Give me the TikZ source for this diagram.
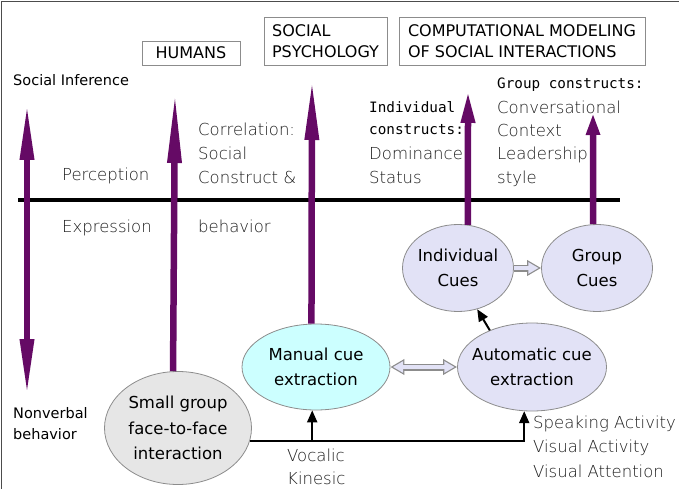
\documentclass[tikz,border=0pt]{standalone}
\usepackage{fontspec}
\setmainfont{DejaVu Sans}
\setmonofont{DejaVu Sans Mono}
\newfontfamily\handfont{DejaVu Sans ExtraLight}
\usepackage{tikz}
\usetikzlibrary{shapes.geometric, arrows.meta, positioning, calc}
\definecolor{arrowPurple}{HTML}{650A65}
\definecolor{cueLav}{HTML}{E2E2F6}
\definecolor{cueCyan}{HTML}{CCFFFF}
\definecolor{cueGray}{HTML}{E6E6E6}
\definecolor{edgeGray}{HTML}{8C8C8C}
\definecolor{handGray}{HTML}{1E1E1E}

\begin{document}
\begin{tikzpicture}[x=1pt, y=-1pt,
    cue/.style={ellipse, draw=edgeGray, line width=0.8pt, inner xsep=-12pt, inner ysep=0pt, align=center,
      font=\fontsize{16.5}{25.5}\selectfont},
    headbox/.style={rectangle, draw=edgeGray, line width=0.8pt, inner sep=0pt, align=left,
      font=\fontsize{16}{21}\selectfont},
    side/.style={anchor=base west, inner sep=0pt, align=left, font=\fontsize{14.5}{21}\selectfont},
    hand/.style={anchor=base west, inner sep=0pt, align=left, text=handGray,
      font=\handfont\fontsize{16.5}{24}\selectfont},
    mono/.style={anchor=base west, inner sep=0pt, align=left, font=\ttfamily\fontsize{14.3}{22}\selectfont},
    outtip/.tip={Triangle[length=14pt, width=15pt]},
    intip/.tip={Triangle[length=10.3pt, width=11pt]},
    bigarrow/.style={line width=6.5pt, arrowPurple, -{Triangle[length=#1, width=13pt]}},
    conn/.style={line width=2pt, -{Triangle[length=12pt, width=10pt]}},
    hollowout/.style={line width=7pt, edgeGray, -outtip},
    hollowin/.style={line width=4.6pt, cueLav, shorten >=2.5pt, -intip}
  ]
  \useasboundingbox (0,0) rectangle (679,489);
  \draw[line width=1.5pt, black!70] (1.5,489) -- (1.5,1.5) -- (679,1.5);

  % === Headers ===
  \node[headbox, minimum width=98pt, minimum height=24pt] (humans) at (191,53) {HUMANS};
  \node[headbox, minimum width=123pt, minimum height=48pt] (socpsy) at (325.5,41) {SOCIAL\\PSYCHOLOGY};
  \node[headbox, minimum width=246pt, minimum height=48pt] (compmod) at (522,41)
    {COMPUTATIONAL MODELING\\OF SOCIAL INTERACTIONS};

  % === Perception / expression line ===
  \draw[line width=4pt] (18,200) -- (620,200);
  \node[side] (socinf) at (13,86) {Social Inference};
  \node[side] (nonverb) at (13,439) {Nonverbal\\behavior};
  \node[hand] (perc) at (62,180) {Perception};
  \node[hand] (expr) at (62,232) {Expression};
  \node[hand] (corr) at (198,183) {Correlation:\\Social\\Construct \&};
  \node[hand] (behav) at (198,232) {behavior};
  \node[mono] (indcons) at (369,135) {Individual\\constructs:};
  \node[hand] (indlist) at (369,183) {Dominance\\Status};
  \node[mono] (grpcons) at (497,89) {Group constructs:};
  \node[hand, font=\handfont\fontsize{16.5}{23.3}\selectfont] (grplist) at (497,183)
    {Conversational\\Context\\Leadership\\style};

  % === Cues ===
  \node[cue, fill=cueGray, minimum width=147pt, minimum height=113pt] (small) at (178,428)
    {Small group\\face-to-face\\interaction};
  \node[cue, fill=cueCyan, minimum width=148pt, minimum height=86pt] (manual) at (316,367)
    {Manual cue\\extraction};
  \node[cue, fill=cueLav, minimum width=149pt, minimum height=88pt] (auto) at (532,367)
    {Automatic cue\\extraction};
  \node[cue, fill=cueLav, minimum width=111pt, minimum height=87pt] (indiv) at (458,268)
    {Individual\\Cues};
  \node[cue, fill=cueLav, minimum width=111pt, minimum height=87pt] (group) at (597,268)
    {Group\\Cues};
  \node[hand, font=\handfont\fontsize{16.5}{23}\selectfont] (vocal) at (287,484) {Vocalic\\Kinesic};
  \node[hand, font=\handfont\fontsize{16.5}{24.5}\selectfont] (speak) at (533,477)
    {Speaking Activity\\Visual Activity\\Visual Attention};

  % === Connectors ===
  \draw[conn] (small.-10) -| (auto.-100);
  \coordinate (vocjoin) at (manual.-95 |- small.-10);
  \draw[conn] (vocjoin) -- (manual.-95);
  \draw[conn] (auto.139) -- (indiv.-65);
  \draw[hollowout, outtip-outtip] (manual.east) -- (auto.west);
  \draw[hollowin, intip-intip, shorten <=2.5pt] (manual.east) -- (auto.west);
  \draw[hollowout] (indiv.east) -- (group.west);
  \draw[hollowin] (indiv.east) -- (group.west);

  % === Purple arrows ===
  \coordinate (sitop) at (27,102);
  \coordinate (nvbot) at (27,397);
  \coordinate (humtip) at (175,90);
  \coordinate (soctip) at (312,78);
  \coordinate (indtip) at (468,90);
  \coordinate (grptip) at (593,113);
  \draw[line width=6.5pt, arrowPurple, {Triangle[length=58pt, width=13pt]}-{Triangle[length=58pt, width=13pt]}]
    (sitop) -- (nvbot);
  \draw[bigarrow=73pt] (small.95) -- (humtip);
  \draw[bigarrow=62pt] (manual.96) -- (soctip);
  \draw[bigarrow=33pt] (indiv.77) -- (indtip);
  \draw[bigarrow=22pt] (group.95) -- (grptip);
\end{tikzpicture}
\end{document}
